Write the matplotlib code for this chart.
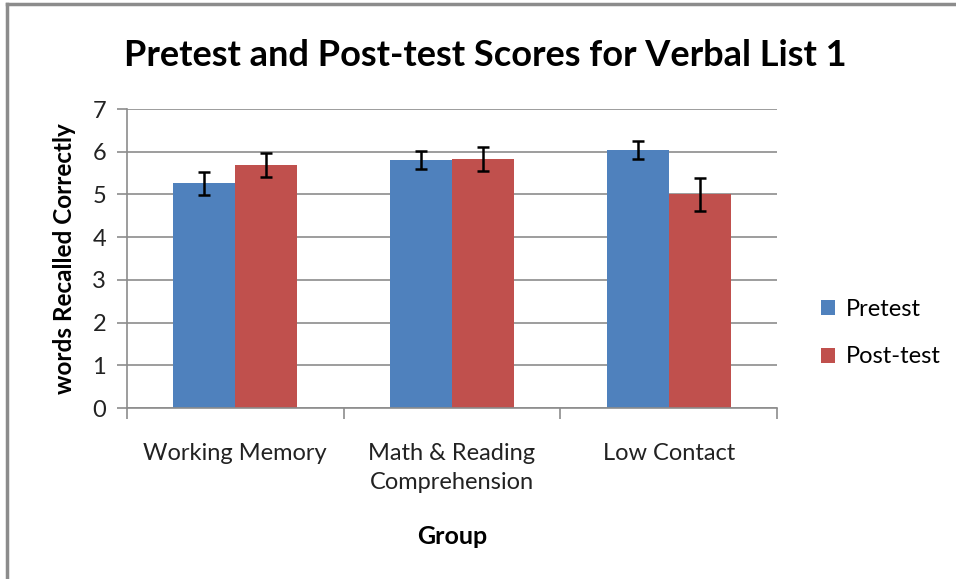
import numpy as np
import matplotlib
matplotlib.use('Agg')
import matplotlib.pyplot as plt
from matplotlib.lines import Line2D

plt.rcParams['font.family'] = ['Lato', 'DejaVu Sans']

# data
groups = ['Working Memory', 'Math & Reading\nComprehension', 'Low Contact']
pretest = [5.26, 5.81, 6.04]
posttest = [5.68, 5.83, 5.00]
pretest_err = [0.27, 0.21, 0.20]
posttest_err = [0.28, 0.28, 0.38]

blue = '#4F81BD'
red = '#C0504D'
grid_col = '#8C8C8C'

fig = plt.figure(figsize=(9.56, 5.79), dpi=100)
ax = fig.add_axes([0.1328, 0.2953, 0.68, 0.5164])

x = np.arange(len(groups))
w = 0.286
ax.bar(x - w / 2, pretest, w, color=blue, label='Pretest', zorder=2)
ax.bar(x + w / 2, posttest, w, color=red, label='Post-test', zorder=2)
ax.errorbar(x - w / 2, pretest, yerr=pretest_err, fmt='none', ecolor='black',
            elinewidth=1.8, capsize=4, capthick=1.8, zorder=3)
ax.errorbar(x + w / 2, posttest, yerr=posttest_err, fmt='none', ecolor='black',
            elinewidth=1.8, capsize=4, capthick=1.8, zorder=3)

ax.set_xlim(-0.5, 2.5)
ax.set_ylim(0, 7)
ax.set_yticks(range(0, 8))
ax.yaxis.grid(True, color=grid_col, linewidth=1.2, zorder=0)
ax.set_axisbelow(True)

ax.set_xticks(x)
ax.set_xticklabels(groups, fontsize=17, color='#222222', linespacing=1.5)
ax.set_xticks([-0.5, 0.5, 1.5, 2.5], minor=True)
ax.tick_params(axis='x', which='major', length=0, pad=25)
ax.tick_params(axis='x', which='minor', length=8, color=grid_col, width=1.2)
ax.tick_params(axis='y', length=7, color=grid_col, width=1.2, labelsize=17,
               labelcolor='#222222', pad=8)

for s in ['top', 'right']:
    ax.spines[s].set_visible(False)
for s in ['left', 'bottom']:
    ax.spines[s].set_color(grid_col)
    ax.spines[s].set_linewidth(1.2)

ax.set_ylabel('words Recalled Correctly', fontsize=17.5, fontweight='bold', labelpad=12)
ax.set_xlabel('Group', fontsize=18, fontweight='bold', labelpad=23)

fig.text(0.508, 0.905, 'Pretest and Post-test Scores for Verbal List 1',
         ha='center', va='center', fontsize=26, fontweight='bold')

ax.legend(loc='center left', bbox_to_anchor=(1.035, 0.25), frameon=False,
          fontsize=17, handlelength=0.6, handleheight=0.6, handletextpad=0.45,
          labelspacing=1.12)

# chart border (left and top edges visible)
fig.add_artist(Line2D([0.0075, 0.0075], [0, 0.993], color='#8C8C8C', lw=2.5,
                      transform=fig.transFigure))
fig.add_artist(Line2D([0.0075, 1], [0.993, 0.993], color='#8C8C8C', lw=2.5,
                      transform=fig.transFigure))

fig.savefig('out.png', dpi=100)
